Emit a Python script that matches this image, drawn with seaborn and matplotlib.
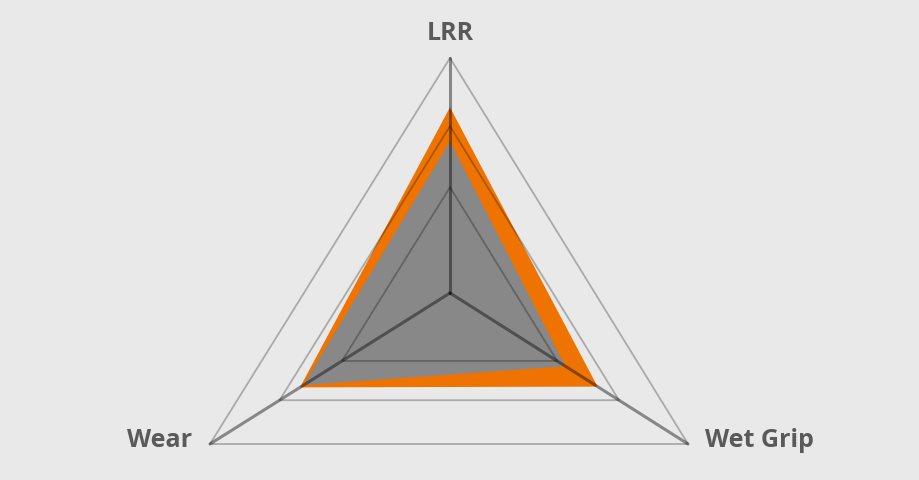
import matplotlib
matplotlib.use('Agg')
import matplotlib.pyplot as plt
import numpy as np
import pandas as pd
import seaborn as sns

# axis names, clockwise from the top
axes_labels = ['LRR', 'Wet Grip', 'Wear']

# values as a share of the full axis length
tyre_a = [0.79, 0.62, 0.625]   # orange
tyre_b = [0.645, 0.485, 0.61]  # gray
grid_levels = [0.45, 0.71, 1.0]

# layout: chart centre and the outer end of each spoke (pixels)
center = np.array([450.0, 293.0])
spoke_ends = np.array([[450.0, 58.0], [688.0, 444.0], [210.0, 444.0]])


def to_xy(values):
    vals = np.asarray(values)[:, None]
    return center + vals * (spoke_ends - center)


def closed(df_xy):
    return np.vstack([df_xy, df_xy[:1]])


sns.set_theme(style='white', rc={'axes.facecolor': '#e9e9e9',
                                 'figure.facecolor': '#e9e9e9'})
plt.rcParams['font.family'] = ['Open Sans', 'DejaVu Sans']

fig = plt.figure(figsize=(9.2, 4.8), dpi=100)
ax = fig.add_axes([0, 0, 1, 1])
ax.set_xlim(0, 920)
ax.set_ylim(480, 0)
ax.axis('off')

# filled areas
pa = closed(to_xy(tyre_a))
pb = closed(to_xy(tyre_b))
ax.fill(pa[:, 0], pa[:, 1], color='#ef7300', lw=0, zorder=1)
ax.fill(pb[:, 0], pb[:, 1], color='#888888', lw=0, zorder=2)

# grid triangles
grid_rows = []
for lvl in grid_levels:
    pts = closed(to_xy([lvl] * 3))
    for i, (x, y) in enumerate(pts):
        grid_rows.append({'level': lvl, 'order': i, 'x': x, 'y': y})
grid_df = pd.DataFrame(grid_rows)
sns.lineplot(data=grid_df, x='x', y='y', units='level', estimator=None,
             sort=False, color='black', alpha=0.27, lw=1.3, ax=ax, zorder=3)

# spokes
spoke_rows = []
for name, end in zip(axes_labels, spoke_ends):
    spoke_rows.append({'axis': name, 'x': center[0], 'y': center[1]})
    spoke_rows.append({'axis': name, 'x': end[0], 'y': end[1]})
spoke_df = pd.DataFrame(spoke_rows)
sns.lineplot(data=spoke_df, x='x', y='y', units='axis', estimator=None,
             sort=False, color='black', alpha=0.42, lw=2.2, ax=ax, zorder=4)
ax.set_xlabel('')
ax.set_ylabel('')

# axis labels
label_style = dict(fontsize=18, fontweight='bold', color='#5a5a5a')
ax.text(spoke_ends[0, 0], spoke_ends[0, 1] - 18, axes_labels[0],
        ha='center', va='baseline', **label_style)
ax.text(spoke_ends[1, 0] + 17, spoke_ends[1, 1] + 3, axes_labels[1],
        ha='left', va='baseline', **label_style)
ax.text(spoke_ends[2, 0] - 18, spoke_ends[2, 1] + 3, axes_labels[2],
        ha='right', va='baseline', **label_style)

fig.savefig('out.png', dpi=100, facecolor=fig.get_facecolor())
